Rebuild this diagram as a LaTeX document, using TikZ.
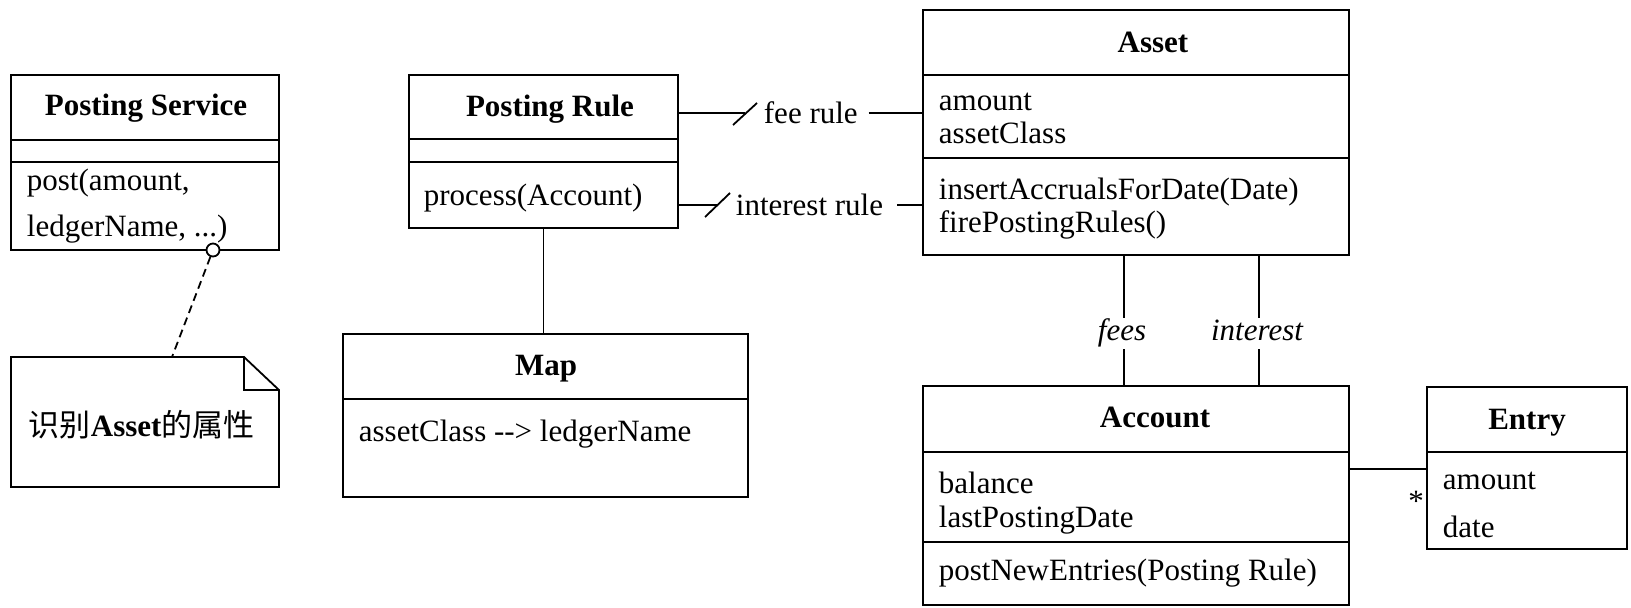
\documentclass[tikz,border=0pt]{standalone}
\usepackage{fontspec}
\setmainfont{Liberation Serif}
\newfontfamily\cjk{Noto Sans CJK SC}
\usetikzlibrary{fit,calc}
\begin{document}
\begin{tikzpicture}[x=0.5pt,y=-0.5pt, line width=0.9pt,
  box/.style={draw, inner sep=0pt, fit={#1}},
  txt/.style={inner sep=0pt, anchor=base west, font=\fontsize{15.5}{18}\selectfont},
  ttl/.style={inner sep=0pt, anchor=base, font=\fontsize{15.5}{18}\selectfont\bfseries},
  lbl/.style={inner sep=0pt, anchor=west, font=\fontsize{15.5}{18}\selectfont},
  rolelbl/.style={inner sep=0pt, anchor=base, font=\fontsize{15.5}{18}\selectfont\itshape},
  ring/.style={circle, draw, fill=white, inner sep=0pt, minimum size=6.5pt},
  notelink/.style={dashed, dash pattern=on 4pt off 2.5pt}
]
\useasboundingbox (0,0) rectangle (1631,607);

% Posting Service
\node[box={(11,75)(279,250)}] (PS) {};
\draw (11,140) -- (279,140);
\draw (11,162) -- (279,162);
\node[ttl] (PSt) at (146,115) {Posting Service};
\node[txt] (PSa) at (26,190) {post(amount,};
\node[txt] (PSb) at (26,236) {ledgerName, ...)};

% Note
\draw (11,357) -- (244,357) -- (279,390) -- (279,487) -- (11,487) -- cycle;
\draw (244,357) -- (244,390) -- (279,390);
\node[txt] (notet) at (28,436) {{\cjk 识别}\textbf{Asset}{\cjk 的属性}};
\coordinate (notetop) at (172,357);
\node[ring] (ringnode) at (213,250) {};
\draw[notelink] (ringnode) -- (notetop);

% Posting Rule
\node[box={(409,75)(678,228)}] (PR) {};
\draw (409,139) -- (678,139);
\draw (409,162) -- (678,162);
\node[ttl] (PRt) at (550,116) {Posting Rule};
\node[txt] (PRa) at (423,205) {process(Account)};

% Map
\node[box={(343,334)(748,497)}] (Map) {};
\draw (343,399) -- (748,399);
\node[ttl] (Mapt) at (546,375) {Map};
\node[txt] (Mapa) at (358,441) {assetClass \mbox{-}\mbox{-}> ledgerName};

% Asset
\node[box={(923,10)(1349,255)}] (Asset) {};
\draw (923,75) -- (1349,75);
\draw (923,158) -- (1349,158);
\node[ttl] (Assett) at (1153,52) {Asset};
\node[txt] (Asa) at (938,110) {amount};
\node[txt] (Asb) at (938,143) {assetClass};
\node[txt] (Asc) at (938,199) {insertAccrualsForDate(Date)};
\node[txt] (Asd) at (938,232) {firePostingRules()};

% Account
\node[box={(923,386)(1349,605)}] (Account) {};
\draw (923,452) -- (1349,452);
\draw (923,542) -- (1349,542);
\node[ttl] (Acct) at (1155,427) {Account};
\node[txt] (Aca) at (938,493) {balance};
\node[txt] (Acb) at (938,527) {lastPostingDate};
\node[txt] (Acc) at (938,580) {postNewEntries(Posting Rule)};

% Entry
\node[box={(1427,387)(1627,549)}] (Entry) {};
\draw (1427,452) -- (1627,452);
\node[ttl] (Entt) at (1527,429) {Entry};
\node[txt] (Ena) at (1442,489) {amount};
\node[txt] (Enb) at (1442,537) {date};

% fee rule
\coordinate (feetk) at (745,113);
\node[lbl] (feelbl) at (763,113) {fee rule};
\draw (PR.east |- feetk) -- (feetk);
\draw ($(feetk)+(-12,12)$) -- ($(feetk)+(12,-10)$);
\draw ([xshift=5pt]feelbl.east) -- (Asset.west |- feelbl.east);

% interest rule
\coordinate (inttk) at (718,205);
\node[lbl] (intlbl) at (735,205) {interest rule};
\draw (PR.east |- inttk) -- (inttk);
\draw ($(inttk)+(-13,12)$) -- ($(inttk)+(12,-12)$);
\draw ([xshift=6.5pt]intlbl.east) -- (Asset.west |- intlbl.east);

% Posting Rule -- Map
\draw (PR.south) -- (PR.south |- Map.north);

% fees / interest
\coordinate (feesA) at (1124,318);
\coordinate (feesB) at (1124,349);
\node[rolelbl] (feeslbl) at (1122,340) {fees};
\draw (Asset.south -| feesA) -- (feesA);
\draw (feesB) -- (Account.north -| feesB);
\coordinate (intA) at (1259,318);
\coordinate (intB) at (1259,349);
\node[rolelbl] (intrlbl) at (1257,340) {interest};
\draw (Asset.south -| intA) -- (intA);
\draw (intB) -- (Account.north -| intB);

% Account -- Entry
\coordinate (ent) at (1390,469);
\draw (Account.east |- ent) -- (Entry.west |- ent);
\node[txt, anchor=base] (star) at (1416,511) {*};
\end{tikzpicture}
\end{document}
